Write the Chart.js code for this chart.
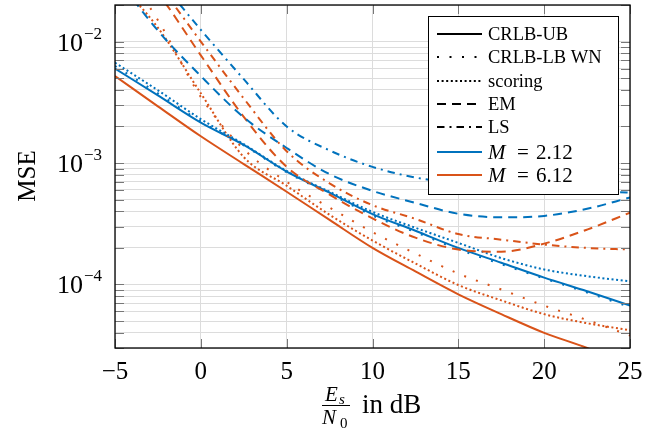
<!DOCTYPE html>
<html>
<head>
<meta charset="utf-8">
<script src="https://cdn.jsdelivr.net/npm/chart.js@4.4.1/dist/chart.umd.min.js"></script>
<style>
  html, body { margin: 0; padding: 0; background: #fff; }
</style>
</head>
<body>
<canvas id="chart" width="661" height="432"></canvas>
<script>
// SNR grid (dB) and MSE values
const snr = [-5, -2.5, 0, 2.5, 5, 7.5, 10, 12.5, 15, 17.5, 20, 22.5, 25];

const crlbUbM2  = [6.0e-3, 3.6e-3, 2.15e-3, 1.41e-3, 8.5e-4, 5.7e-4, 3.8e-4, 2.77e-4, 2.0e-4, 1.51e-4, 1.14e-4, 8.8e-5, 6.7e-5];
const crlbUbM6  = [5.2e-3, 2.93e-3, 1.66e-3, 9.8e-4, 5.8e-4, 3.4e-4, 2.0e-4, 1.28e-4, 8.3e-5, 5.7e-5, 4.0e-5, 3.0e-5, 2.1e-5];
const crlbLbM2  = [6.3e-3, 3.75e-3, 2.2e-3, 1.4e-3, 8.4e-4, 5.6e-4, 3.7e-4, 2.7e-4, 1.95e-4, 1.47e-4, 1.12e-4, 8.6e-5, 6.5e-5];
const crlbLbM6  = [5e-2, 1.5e-2, 3.5e-3, 1.3e-3, 7.0e-4, 4.3e-4, 2.7e-4, 1.8e-4, 1.23e-4, 9.1e-5, 6.7e-5, 5.1e-5, 3.8e-5];
const scoringM2 = [6.7e-3, 3.97e-3, 2.3e-3, 1.43e-3, 8.6e-4, 5.8e-4, 3.96e-4, 2.93e-4, 2.2e-4, 1.65e-4, 1.33e-4, 1.17e-4, 1.06e-4];
const scoringM6 = [3.3e-2, 1.3e-2, 3.75e-3, 1.12e-3, 6.5e-4, 3.75e-4, 2.3e-4, 1.49e-4, 9.9e-5, 7.4e-5, 5.7e-5, 4.8e-5, 4.2e-5];
const emM2      = [3.5e-2, 1.23e-2, 5.2e-3, 2.38e-3, 1.33e-3, 8.1e-4, 5.9e-4, 4.7e-4, 3.82e-4, 3.57e-4, 3.67e-4, 4.2e-4, 5.2e-4];
const emM6      = [6e-2, 2.5e-2, 7.7e-3, 2.4e-3, 9.3e-4, 5.5e-4, 3.5e-4, 2.43e-4, 1.94e-4, 1.86e-4, 2.17e-4, 2.83e-4, 3.9e-4];
const lsM2      = [8e-2, 3.3e-2, 1.25e-2, 4.9e-3, 2.0e-3, 1.27e-3, 9.3e-4, 7.6e-4, 6.8e-4, 6.4e-4, 6.1e-4, 5.9e-4, 5.7e-4];
const lsM6      = [8e-2, 3.0e-2, 1.0e-2, 3.4e-3, 1.25e-3, 6.8e-4, 4.5e-4, 3.47e-4, 2.6e-4, 2.34e-4, 2.13e-4, 2.0e-4, 1.94e-4];

// tick labels
const xTicks = [-5, 0, 5, 10, 15, 20, 25];
const yTickPowers = [-2, -3, -4];
const yMin = 3e-5, yMax = 2e-2;

const legendMethods = ['CRLB-UB', 'CRLB-LB WN', 'scoring', 'EM', 'LS'];
const legendOrders = ['2.12', '6.12'];

const blue = '#0072BD';
const orange = '#D95319';
const serif = '"Liberation Serif", "DejaVu Serif", serif';

const dash = {
    solid: [],
    loose: [2, 10.5],
    dense: [2, 2.6],
    dashed: [9, 6],
    dashdot: [7.5, 5, 2, 5]
};

function series(values, color, style) {
    return {
        data: snr.map((s, i) => ({x: s, y: values[i]})),
        borderColor: color,
        borderWidth: 2,
        borderDash: dash[style],
        borderCapStyle: 'butt',
        pointRadius: 0,
        fill: false,
        cubicInterpolationMode: 'monotone'
    };
}

// frame, inward ticks, y labels, axis titles and the boxed legend
const decor = {
    id: 'decor',
    afterDraw(chart) {
        const {ctx, chartArea: a, scales: {x, y}} = chart;
        ctx.save();

        // inward tick marks
        ctx.strokeStyle = '#777';
        ctx.lineWidth = 1;
        ctx.setLineDash([]);
        ctx.beginPath();
        y.ticks.forEach(t => {
            const py = Math.round(y.getPixelForValue(t.value)) + 0.5;
            ctx.moveTo(a.left, py); ctx.lineTo(a.left + 9, py);
            ctx.moveTo(a.right, py); ctx.lineTo(a.right - 9, py);
        });
        xTicks.forEach(v => {
            const px = Math.round(x.getPixelForValue(v)) + 0.5;
            ctx.moveTo(px, a.bottom); ctx.lineTo(px, a.bottom - 9);
            ctx.moveTo(px, a.top); ctx.lineTo(px, a.top + 9);
        });
        ctx.stroke();

        // frame
        ctx.strokeStyle = '#000';
        ctx.lineWidth = 1.3;
        ctx.strokeRect(a.left, a.top, a.right - a.left, a.bottom - a.top);

        // y tick labels 10^k
        ctx.fillStyle = '#000';
        ctx.textBaseline = 'alphabetic';
        yTickPowers.forEach(p => {
            const py = y.getPixelForValue(Math.pow(10, p));
            const sup = '\u2212' + Math.abs(p);
            ctx.font = '17px ' + serif;
            const sw = ctx.measureText(sup).width;
            const right = a.left - 13;
            ctx.textAlign = 'left';
            ctx.fillText(sup, right - sw, py - 3);
            ctx.font = '26px ' + serif;
            ctx.textAlign = 'right';
            ctx.fillText('10', right - sw - 1, py + 9);
        });

        // y title
        ctx.save();
        ctx.translate(28, 176);
        ctx.rotate(-Math.PI / 2);
        ctx.font = '25px ' + serif;
        ctx.textAlign = 'center';
        ctx.textBaseline = 'middle';
        ctx.fillText('MSE', 0, 0);
        ctx.restore();

        // x title: Es/N0 in dB
        const fx = 336;
        ctx.textAlign = 'left';
        ctx.font = 'italic 21px ' + serif;
        ctx.fillText('E', fx - 11, 401);
        ctx.font = 'italic 15px ' + serif;
        ctx.fillText('s', fx + 3, 404);
        ctx.font = 'italic 21px ' + serif;
        ctx.fillText('N', fx - 14, 424);
        ctx.font = '15px ' + serif;
        ctx.fillText('0', fx + 4, 428);
        ctx.lineWidth = 1;
        ctx.beginPath();
        ctx.moveTo(fx - 14, 405.5); ctx.lineTo(fx + 14, 405.5);
        ctx.stroke();
        ctx.font = '27px ' + serif;
        ctx.fillText('in dB', fx + 26, 413);

        // legend box
        const lx = 428, ly = 16, lw = 190, lh = 178;
        ctx.fillStyle = '#fff';
        ctx.fillRect(lx, ly, lw, lh);
        ctx.strokeStyle = '#000';
        ctx.lineWidth = 1;
        ctx.strokeRect(lx + 0.5, ly + 0.5, lw, lh);

        const rows = [34, 57, 81, 104, 127, 152, 175];
        const styles = ['solid', 'loose', 'dense', 'dashed', 'dashdot'];
        ctx.textBaseline = 'middle';
        ctx.textAlign = 'left';
        legendMethods.forEach((name, i) => {
            ctx.strokeStyle = '#000';
            ctx.lineWidth = 2;
            ctx.lineCap = 'butt';
            ctx.setLineDash(dash[styles[i]]);
            ctx.beginPath();
            ctx.moveTo(437, rows[i]); ctx.lineTo(482, rows[i]);
            ctx.stroke();
            ctx.setLineDash([]);
            ctx.fillStyle = '#000';
            ctx.font = '18.5px ' + serif;
            ctx.fillText(name, 488, rows[i] + 1);
        });
        [blue, orange].forEach((c, j) => {
            const ry = rows[5 + j];
            ctx.strokeStyle = c;
            ctx.lineWidth = 2;
            ctx.setLineDash([]);
            ctx.beginPath();
            ctx.moveTo(437, ry); ctx.lineTo(482, ry);
            ctx.stroke();
            ctx.fillStyle = '#000';
            ctx.font = 'italic 21px ' + serif;
            ctx.fillText('M', 488, ry + 1);
            ctx.font = '21px ' + serif;
            ctx.fillText('=', 517, ry + 1);
            ctx.fillText(legendOrders[j], 536, ry + 1);
        });

        ctx.restore();
    }
};

new Chart(document.getElementById('chart'), {
    type: 'line',
    data: {
        datasets: [
            series(lsM2, blue, 'dashdot'),
            series(lsM6, orange, 'dashdot'),
            series(emM2, blue, 'dashed'),
            series(emM6, orange, 'dashed'),
            series(scoringM2, blue, 'dense'),
            series(scoringM6, orange, 'dense'),
            series(crlbLbM2, blue, 'loose'),
            series(crlbLbM6, orange, 'loose'),
            series(crlbUbM2, blue, 'solid'),
            series(crlbUbM6, orange, 'solid')
        ]
    },
    options: {
        responsive: false,
        animation: false,
        devicePixelRatio: 1,
        layout: {padding: {top: 5, right: 31, left: 0, bottom: 0}},
        plugins: {legend: {display: false}, tooltip: {enabled: false}},
        scales: {
            x: {
                type: 'linear',
                min: -5,
                max: 25,
                afterBuildTicks: s => { s.ticks = xTicks.map(v => ({value: v})); },
                afterFit: s => { s.height = 84; },
                grid: {color: '#dcdcdc', lineWidth: 1, drawTicks: false},
                border: {display: false},
                ticks: {
                    padding: 9,
                    color: '#000',
                    font: {family: serif, size: 25},
                    callback: v => (v < 0 ? '\u2212' + Math.abs(v) : String(v))
                }
            },
            y: {
                type: 'logarithmic',
                min: yMin,
                max: yMax,
                afterBuildTicks: s => {
                    const t = [];
                    for (let e = -5; e <= -2; e++) {
                        for (let m = 1; m <= 9; m++) {
                            const v = m * Math.pow(10, e);
                            if (v >= yMin * 0.999 && v <= yMax * 1.001) t.push({value: v});
                        }
                    }
                    s.ticks = t;
                },
                afterFit: s => { s.width = 115; },
                grid: {color: '#dcdcdc', lineWidth: 1, drawTicks: false},
                border: {display: false},
                ticks: {display: false}
            }
        }
    },
    plugins: [decor]
});
</script>
</body>
</html>
